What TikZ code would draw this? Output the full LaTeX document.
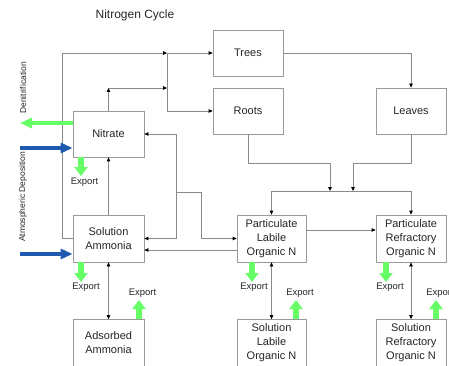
\documentclass[tikz,border=0pt]{standalone}
\usepackage{fontspec}
\setmainfont{Liberation Sans}
\usetikzlibrary{arrows.meta,calc}

\definecolor{linegray}{HTML}{8A8A8A}
\definecolor{boxgray}{HTML}{9A9A9A}
\definecolor{exportgreen}{HTML}{66FF66}
\definecolor{depblue}{HTML}{1F5AAE}
\definecolor{txt}{HTML}{262626}

\tikzset{
  pool/.style={draw=boxgray, line width=0.8pt, fill=white, minimum width=70pt,
    minimum height=46pt, align=center, font=\fontsize{11}{14}\selectfont, text=txt, inner sep=1pt},
  flow/.style={draw=linegray, line width=0.8pt},
  tip/.style={flow, -{Triangle[length=4pt,width=3.6pt,color=black]}},
  twotip/.style={flow, {Triangle[length=4pt,width=3.6pt,color=black]}-{Triangle[length=4pt,width=3.6pt,color=black]}},
  gexport/.style={draw=exportgreen, line width=6pt, -{Triangle[length=9pt,width=13pt]}},
  gdenit/.style={draw=exportgreen, line width=4.5pt, -{Triangle[length=12pt,width=10pt]}},
  bdep/.style={draw=depblue, line width=4.5pt, -{Triangle[length=12pt,width=10pt]}},
  explabel/.style={font=\fontsize{9.5}{11}\selectfont, text=txt},
  sidelabel/.style={font=\fontsize{8.5}{10}\selectfont, text=txt, rotate=90},
}

\begin{document}
\begin{tikzpicture}[x=1pt, y=-1pt]
\useasboundingbox (0,0) rectangle (449,366);

% title
\node[font=\fontsize{12}{14}\selectfont, text=txt] (title) at (135,15) {Nitrogen Cycle};

% pools
\node[pool] (trees)   at (248,53)    {Trees};
\node[pool] (roots)   at (248,111)   {Roots};
\node[pool] (leaves)  at (411,111)   {Leaves};
\node[pool, minimum width=71pt] (nitrate) at (108.5,134) {Nitrate};
\node[pool, minimum width=71pt, minimum height=47pt] (sa)  at (108.5,238.5) {Solution\\Ammonia};
\node[pool, minimum width=71pt, minimum height=47pt] (ads) at (108.5,343)   {Adsorbed\\Ammonia};
\node[pool, minimum width=69pt, minimum height=47pt] (pl)  at (271.5,238.5) {Particulate\\Labile\\Organic N};
\node[pool, minimum height=47pt] (pr) at (411,238.5) {Particulate\\Refractory\\Organic N};
\node[pool, minimum width=69pt, minimum height=47pt] (sl)  at (271.5,343)   {Solution\\Labile\\Organic N};
\node[pool, minimum height=47pt] (sr) at (411,343) {Solution\\Refractory\\Organic N};

% junction points
\coordinate (loopx) at (62,53);
\coordinate (jTop)  at (167,53);
\coordinate (jMid)  at (167,88);
\coordinate (jRoot) at (167,111);
\coordinate (kL) at (330,163);
\coordinate (kR) at (353,163);
\coordinate (mL) at (330,191);
\coordinate (mR) at (353,191);
\coordinate (hubA) at (176,192);
\coordinate (hubB) at (201,192);

% uptake into trees and roots
\draw[tip] (sa.west) -| (loopx) -- (jTop);
\draw[tip] (nitrate.north) -- (nitrate.north |- jMid);
\draw[tip] (nitrate.north |- jMid) -- (jMid);
\draw[flow] (jTop) -- (jRoot);
\draw[tip] (jTop) -- (trees.west);
\draw[tip] (jRoot) -- (roots.west);
\draw[tip] (trees.east) -| (leaves.north);

% litter fall to particulate pools
\draw[tip] (roots.south) |- (kL) -- (mL);
\draw[tip] (leaves.south) |- (kR) -- (mR);
\draw[flow] (mL -| pl.north) -- (mL -| pr.north);
\draw[tip] (mL -| pl.north) -- (pl.north);
\draw[tip] (mL -| pr.north) -- (pr.north);
\draw[tip] ([yshift=8.5pt]pl.east) -- ([yshift=8.5pt]pr.west);

% inorganic exchanges
\draw[tip] (sa.north) -- (nitrate.south);
\draw[tip] (hubA) |- (nitrate.east);
\draw[tip] (hubA) |- (sa.east);
\draw[tip] (hubA) -- (hubB) |- (pl.west);
\draw[tip] ([yshift=-11.5pt]pl.west) -- ([yshift=-11.5pt]sa.east);

% sorption / dissolution
\draw[twotip] (sa.south) -- (ads.north);
\draw[twotip] (pl.south) -- (sl.north);
\draw[twotip] (pr.south) -- (sr.north);

% denitrification and deposition
\coordinate (denit) at (20,123);
\coordinate (depA)  at (20,148);
\coordinate (depB)  at (20,254);
\draw[gdenit] (denit -| nitrate.west) -- (denit);
\draw[bdep] (depA) -- (depA -| nitrate.west);
\draw[bdep] (depB) -- (depB -| sa.west);
\node[sidelabel] (lblDen) at (23,88)  {Denitrification};
\node[sidelabel] (lblAtm) at (23,197) {Atmospheric Deposition};

% export arrows
\draw[gexport] (81,157) -- (81,176);
\draw[gexport] (81,262) -- (81,282);
\draw[gexport] (139,319) -- (139,300);
\draw[gexport] (252,262) -- (252,282);
\draw[gexport] (296,319) -- (296,300);
\draw[gexport] (386,262) -- (386,282);
\draw[gexport] (436,319) -- (436,300);
\node[explabel] (exN)  at (84.5,182) {Export};
\node[explabel] (exSA) at (86,287)   {Export};
\node[explabel] (exAd) at (142.5,293) {Export};
\node[explabel] (exPL) at (254,287)  {Export};
\node[explabel] (exSL) at (300,293)  {Export};
\node[explabel] (exPR) at (390,287)  {Export};
\node[explabel] (exSR) at (440,293)  {Export};
\end{tikzpicture}
\end{document}
